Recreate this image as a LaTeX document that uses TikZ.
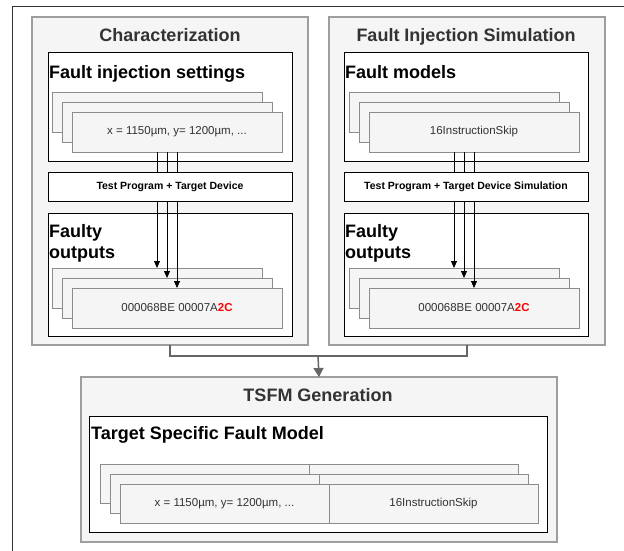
\documentclass[tikz,border=0pt]{standalone}
\usepackage{fontspec}
\setmainfont{Liberation Sans}
\usetikzlibrary{arrows.meta}

\definecolor{boxfill}{HTML}{F5F5F5}
\definecolor{boxline}{HTML}{9E9E9E}
\definecolor{cardline}{HTML}{8C8C8C}
\definecolor{headtext}{HTML}{333333}
\definecolor{linkgray}{HTML}{666666}

\tikzset{
	panel/.style={draw=boxline, fill=boxfill, line width=1.2pt, inner sep=0pt, outer sep=0pt},
	inbox/.style={draw=black, fill=white, line width=1pt, inner sep=0pt, outer sep=0pt},
	card/.style={draw=cardline, fill=boxfill, line width=0.9pt, inner sep=0pt, outer sep=0pt,
		minimum width=210pt, minimum height=40pt, text=headtext, font=\fontsize{11.5}{13}\selectfont},
	halfcard/.style={card, minimum width=209pt, minimum height=39pt},
	head/.style={inner sep=0pt, text=headtext, font=\fontsize{18}{21}\selectfont\bfseries},
	boxlabel/.style={inner sep=0pt, align=left, font=\fontsize{18}{20.5}\selectfont\bfseries},
	progbox/.style={inbox, minimum width=244pt, minimum height=29pt, font=\fontsize{10.5}{12}\selectfont\bfseries},
	wire/.style={draw=black, line width=0.8pt},
	link/.style={draw=linkgray, line width=1.5pt},
}
\newcommand{\flip}{{\color{red}\bfseries 2C}}

\begin{document}
\begin{tikzpicture}[x=1pt, y=-1pt]
	\useasboundingbox (0,0) rectangle (624,551);
	% outer frame
	\coordinate (fa) at (12.5,551);
	\coordinate (fb) at (12.5,6.5);
	\coordinate (fc) at (624,6.5);
	\draw[headtext, line width=1pt] (fa) -- (fb) -- (fc);

	% characterization
	\node[panel, minimum width=276pt, minimum height=328pt] (char) at (170,181) {};
	\node[head, anchor=base] (chart) at (170,41.5) {Characterization};
	\node[inbox, minimum width=244pt, minimum height=108pt] (setbox) at (170,107) {};
	\node[boxlabel, anchor=base west] (setlbl) at (49,78) {Fault injection settings};
	\node[inbox, minimum width=244pt, minimum height=123pt] (outbox) at (170,274.5) {};
	\node[boxlabel, anchor=base west] (outlbl) at (49,258) {Faulty\\outputs};
	\node[card] (o1) at (157,288) {};
	\node[card] (o2) at (167,298) {};
	\node[card] (o3) at (177,308) {000068BE 00007A\flip};
	\node[card] (s1) at (157,112) {};
	\node[card] (s2) at (167,122) {};
	\node[card] (s3) at (177,132) {x = 1150µm, y= 1200µm, ...};
	\draw[wire, -{Triangle[width=6pt,length=7pt]}] (s1.south |- s3.south) -- (o1.north);
	\draw[wire, -{Triangle[width=6pt,length=7pt]}] (s2.south |- s3.south) -- (o2.north);
	\draw[wire, -{Triangle[width=6pt,length=7pt]}] (s3.south) -- (o3.north);
	\node[progbox] (prog) at (170,186.5) {Test Program + Target Device};

	% fault injection simulation
	\node[panel, minimum width=276pt, minimum height=328pt] (fis) at (467,181) {};
	\node[head, anchor=base] (fist) at (466,41.5) {Fault Injection Simulation};
	\node[inbox, minimum width=244pt, minimum height=108pt] (modbox) at (466,107) {};
	\node[boxlabel, anchor=base west] (modlbl) at (345,78) {Fault models};
	\node[inbox, minimum width=244pt, minimum height=123pt] (simbox) at (466,274.5) {};
	\node[boxlabel, anchor=base west] (simlbl) at (345,258) {Faulty\\outputs};
	\node[card] (p1) at (454,288) {};
	\node[card] (p2) at (464,298) {};
	\node[card] (p3) at (474,308) {000068BE 00007A\flip};
	\node[card] (m1) at (454,112) {};
	\node[card] (m2) at (464,122) {};
	\node[card] (m3) at (474,132) {16InstructionSkip};
	\draw[wire, -{Triangle[width=6pt,length=7pt]}] (m1.south |- m3.south) -- (p1.north);
	\draw[wire, -{Triangle[width=6pt,length=7pt]}] (m2.south |- m3.south) -- (p2.north);
	\draw[wire, -{Triangle[width=6pt,length=7pt]}] (m3.south) -- (p3.north);
	\node[progbox] (simprog) at (466,186.5) {Test Program + Target Device Simulation};

	% tsfm generation
	\node[panel, minimum width=476pt, minimum height=165pt] (tsfm) at (319,459.5) {};
	\node[head, anchor=base] (tsfmt) at (318,401) {TSFM Generation};
	\node[inbox, minimum width=458pt, minimum height=116pt] (tsfmbox) at (318,474) {};
	\node[boxlabel, anchor=base west] (tsfmlbl) at (91,439) {Target Specific Fault Model};
	\node[halfcard] (t1a) at (204.5,483.5) {};
	\node[halfcard] (t1b) at (413.5,483.5) {};
	\node[halfcard] (t2a) at (214.5,493.5) {};
	\node[halfcard] (t2b) at (423.5,493.5) {};
	\node[halfcard] (t3a) at (224.5,503.5) {x = 1150µm, y= 1200µm, ...};
	\node[halfcard] (t3b) at (433.5,503.5) {16InstructionSkip};

	% merge into tsfm
	\coordinate (join) at (318,356);
	\draw[link] (char.south) |- (join) -| (fis.south);
	\draw[link, -{Triangle[width=10pt,length=9pt]}] (join) -- (tsfm.north);
\end{tikzpicture}
\end{document}
